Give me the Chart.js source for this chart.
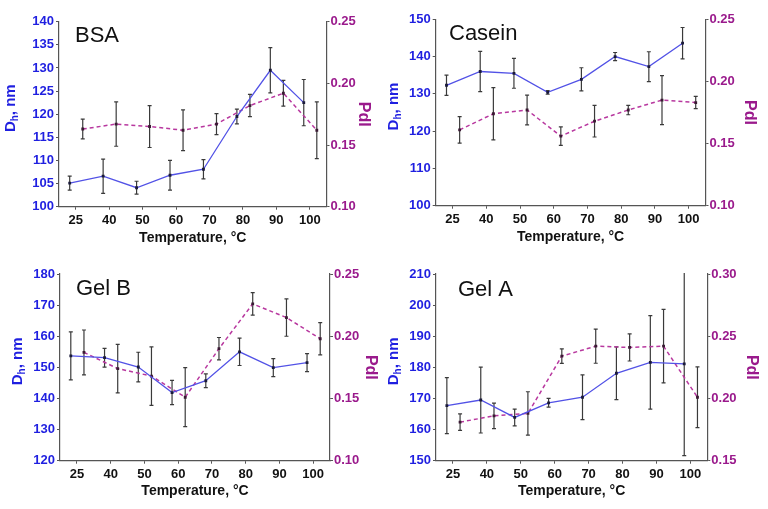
<!DOCTYPE html>
<html>
<head>
<meta charset="utf-8">
<script src="https://cdn.jsdelivr.net/npm/chart.js@4.4.1/dist/chart.umd.min.js"></script>
<style>
    body { margin: 0; background: #fff; }
    #page { position: relative; width: 768px; height: 509px; overflow: hidden; background: #fff; }
    #page canvas { position: absolute; }
</style>
</head>
<body>
<div id="page">
    <canvas id="bsaChart" width="384" height="250" style="left:0;top:0"></canvas>
    <canvas id="caseinChart" width="384" height="250" style="left:384px;top:0"></canvas>
    <canvas id="gelBChart" width="384" height="259" style="left:0;top:250px"></canvas>
    <canvas id="gelAChart" width="384" height="259" style="left:384px;top:250px"></canvas>
</div>
<script>
const tempLabels = ["25", "40", "50", "60", "70", "80", "90", "100"];

// BSA
const bsaSize = [105.1, 106.6, 104.1, 106.8, 108.1, 119.5, 129.5, 122.5];
const bsaSizeErr = [1.5, 3.7, 1.4, 3.2, 2.1, 1.6, 4.9, 5.0];
const bsaPdi = [0.163, 0.167, 0.165, 0.162, 0.167, 0.182, 0.192, 0.162];
const bsaPdiErr = [0.008, 0.018, 0.017, 0.0165, 0.0085, 0.009, 0.0105, 0.023];

// Casein
const caseinSize = [132.3, 136.0, 135.5, 130.4, 133.9, 140.0, 137.3, 143.6];
const caseinSizeErr = [2.7, 5.4, 4.0, 0.5, 3.1, 1.1, 4.0, 4.2];
const caseinPdi = [0.161, 0.174, 0.177, 0.156, 0.168, 0.177, 0.185, 0.183];
const caseinPdiErr = [0.0107, 0.021, 0.012, 0.0074, 0.0127, 0.0038, 0.0197, 0.0049];

// Gel B
const gelBSize = [153.7, 153.1, 150.1, 141.9, 145.7, 155.0, 149.9, 151.5];
const gelBSizeErr = [7.7, 3.0, 4.75, 3.9, 2.2, 4.4, 2.9, 2.9];
const gelBPdi = [0.187, 0.174, 0.168, 0.151, 0.19, 0.226, 0.215, 0.198];
const gelBPdiErr = [0.018, 0.0195, 0.0235, 0.0237, 0.009, 0.009, 0.015, 0.013];

// Gel A
const gelASize = [167.7, 169.5, 163.9, 168.6, 170.4, 178.1, 181.6, 181.1];
const gelASizeErr = [9.0, 10.6, 2.7, 1.4, 7.2, 8.5, 15.0, 29.5];
const gelAPdi = [0.181, 0.186, 0.188, 0.234, 0.242, 0.241, 0.242, 0.201];
const gelAPdiErr = [0.0067, 0.0103, 0.0174, 0.0058, 0.0137, 0.0109, 0.0295, 0.0244];

const FONT = "'Liberation Sans', Arial, sans-serif";
const SIZE_COLOR = "#1f1fe0";
const SIZE_LINE = "#5252e6";
const PDI_COLOR = "#9a1a8c";
const PDI_LINE = "#b8389f";
const AXIS_COLOR = "#555";
// small sideways shift of the two series inside each temperature slot
const SIZE_SHIFT = -0.18;
const PDI_SHIFT = 0.21;

const panels = [
    { id: "bsaChart", name: "BSA", size: bsaSize, sizeErr: bsaSizeErr, pdi: bsaPdi, pdiErr: bsaPdiErr,
      sizeMin: 100, sizeMax: 140, sizeStep: 5, pdiMin: 0.10, pdiMax: 0.25,
      w: 384, h: 250, left: 59, right: 326.5, top: 21.7, bottom: 206.7,
      nameX: 75, nameY: 42, yTitleX: 11, pdiTitleOff: 21, xTitleOff: 12.3 },
    { id: "caseinChart", name: "Casein", size: caseinSize, sizeErr: caseinSizeErr, pdi: caseinPdi, pdiErr: caseinPdiErr,
      sizeMin: 100, sizeMax: 150, sizeStep: 10, pdiMin: 0.10, pdiMax: 0.25,
      w: 384, h: 250, left: 51.7, right: 321.5, top: 19.3, bottom: 205.7,
      nameX: 65, nameY: 40, yTitleX: 10, pdiTitleOff: 19, xTitleOff: 12.7 },
    { id: "gelBChart", name: "Gel B", size: gelBSize, sizeErr: gelBSizeErr, pdi: gelBPdi, pdiErr: gelBPdiErr,
      sizeMin: 120, sizeMax: 180, sizeStep: 10, pdiMin: 0.10, pdiMax: 0.25,
      w: 384, h: 259, left: 60, right: 330, top: 24, bottom: 210.7,
      nameX: 76, nameY: 45, yTitleX: 18, pdiTitleOff: 14, xTitleOff: 18.3 },
    { id: "gelAChart", name: "Gel A", size: gelASize, sizeErr: gelASizeErr, pdi: gelAPdi, pdiErr: gelAPdiErr,
      sizeMin: 150, sizeMax: 210, sizeStep: 10, pdiMin: 0.15, pdiMax: 0.30,
      w: 384, h: 259, left: 52, right: 323.3, top: 24, bottom: 210.7,
      nameX: 74, nameY: 46, yTitleX: 10, pdiTitleOff: 17, xTitleOff: 18.3 },
];

const errorBars = {
    id: "errorBars",
    beforeDatasetsDraw(chart) {
        const { ctx, chartArea } = chart;
        ctx.save();
        ctx.beginPath();
        ctx.rect(chartArea.left, chartArea.top - 1, chartArea.right - chartArea.left, chartArea.bottom - chartArea.top + 2);
        ctx.clip();
        ctx.strokeStyle = "#3a3a3a";
        ctx.lineWidth = 1.2;
        chart.data.datasets.forEach((ds, di) => {
            const meta = chart.getDatasetMeta(di);
            const yScale = chart.scales[ds.yAxisID];
            meta.data.forEach((pt, i) => {
                const v = ds.data[i].y;
                const e = ds.errors[i];
                const yTop = yScale.getPixelForValue(v + e);
                const yBot = yScale.getPixelForValue(v - e);
                ctx.beginPath();
                ctx.moveTo(pt.x, yTop);
                ctx.lineTo(pt.x, yBot);
                ctx.moveTo(pt.x - 2, yTop);
                ctx.lineTo(pt.x + 2, yTop);
                ctx.moveTo(pt.x - 2, yBot);
                ctx.lineTo(pt.x + 2, yBot);
                ctx.stroke();
            });
        });
        ctx.restore();
    },
};

const panelDecor = {
    id: "panelDecor",
    afterDraw(chart, args, opts) {
        const { ctx, chartArea } = chart;
        ctx.save();
        ctx.fillStyle = "#111";
        ctx.font = "22px " + FONT;
        ctx.textBaseline = "alphabetic";
        ctx.textAlign = "left";
        ctx.fillText(opts.name, opts.nameX, opts.nameY);

        // left axis title, D with subscript h
        const cy = (chartArea.top + chartArea.bottom) / 2 - 6;
        ctx.translate(opts.titleX, cy);
        ctx.rotate(-Math.PI / 2);
        ctx.fillStyle = SIZE_COLOR;
        ctx.textBaseline = "middle";
        const big = "bold 15px " + FONT;
        const small = "bold 10px " + FONT;
        ctx.font = big;
        const wD = ctx.measureText("D").width;
        const wR = ctx.measureText(", nm").width;
        ctx.font = small;
        const wH = ctx.measureText("h").width;
        let x = -(wD + wH + wR) / 2;
        ctx.font = big;
        ctx.fillText("D", x, 0);
        x += wD;
        ctx.font = small;
        ctx.fillText("h", x, 4);
        x += wH;
        ctx.font = big;
        ctx.fillText(", nm", x, 0);
        ctx.restore();
    },
};

function makeChart(p) {
    new Chart(document.getElementById(p.id), {
        type: "line",
        data: {
            datasets: [
                {
                    label: "Dh",
                    data: p.size.map((v, i) => ({ x: i + SIZE_SHIFT, y: v })),
                    errors: p.sizeErr,
                    yAxisID: "y",
                    borderColor: SIZE_LINE,
                    borderWidth: 1.3,
                    pointStyle: "rect",
                    pointRadius: 2,
                    pointBackgroundColor: "#1a1a3a",
                    pointBorderWidth: 0,
                    tension: 0,
                },
                {
                    label: "PdI",
                    data: p.pdi.map((v, i) => ({ x: i + PDI_SHIFT, y: v })),
                    errors: p.pdiErr,
                    yAxisID: "y1",
                    borderColor: PDI_LINE,
                    borderWidth: 1.5,
                    borderDash: [4, 3],
                    pointStyle: "rect",
                    pointRadius: 2,
                    pointBackgroundColor: "#3a1a33",
                    pointBorderWidth: 0,
                    tension: 0,
                },
            ],
        },
        options: {
            responsive: false,
            animation: false,
            layout: { padding: { top: p.top, left: 0, right: 0, bottom: 0 } },
            plugins: {
                legend: { display: false },
                tooltip: { enabled: false },
                panelDecor: { name: p.name, nameX: p.nameX, nameY: p.nameY, titleX: p.yTitleX },
            },
            scales: {
                x: {
                    type: "linear",
                    min: -0.5,
                    max: 7.5,
                    afterBuildTicks: (s) => { s.ticks = tempLabels.map((_, i) => ({ value: i })); },
                    afterFit: (s) => { s.height = p.h - p.bottom; },
                    ticks: {
                        autoSkip: false,
                        maxRotation: 0,
                        padding: 3,
                        color: "#111",
                        font: { family: FONT, size: 13, weight: "bold" },
                        callback: (v) => tempLabels[v],
                    },
                    grid: { drawOnChartArea: false, tickLength: 3, color: AXIS_COLOR },
                    border: { color: AXIS_COLOR, width: 1.2 },
                    title: {
                        display: true,
                        text: "Temperature, °C",
                        color: "#111",
                        font: { family: FONT, size: 14, weight: "bold", lineHeight: 1.2 },
                        padding: { top: 0, bottom: p.xTitleOff - 8.4 },
                    },
                },
                y: {
                    position: "left",
                    min: p.sizeMin,
                    max: p.sizeMax,
                    afterFit: (s) => { s.width = p.left; },
                    ticks: {
                        stepSize: p.sizeStep,
                        padding: 2,
                        color: SIZE_COLOR,
                        font: { family: FONT, size: 13, weight: "bold" },
                    },
                    grid: { drawOnChartArea: false, tickLength: 3, color: AXIS_COLOR },
                    border: { color: AXIS_COLOR, width: 1.2 },
                },
                y1: {
                    position: "right",
                    min: p.pdiMin,
                    max: p.pdiMax,
                    afterFit: (s) => { s.width = p.w - p.right; },
                    ticks: {
                        stepSize: 0.05,
                        padding: 1,
                        color: PDI_COLOR,
                        font: { family: FONT, size: 13, weight: "bold" },
                        callback: (v) => v.toFixed(2),
                    },
                    grid: { drawOnChartArea: false, tickLength: 3, color: AXIS_COLOR },
                    border: { color: AXIS_COLOR, width: 1.2 },
                    title: {
                        display: true,
                        text: "PdI",
                        color: PDI_COLOR,
                        font: { family: FONT, size: 16, weight: "bold", lineHeight: 1.2 },
                        padding: { top: p.pdiTitleOff - 9.6, bottom: 0 },
                    },
                },
            },
        },
        plugins: [errorBars, panelDecor],
    });
}

panels.forEach(makeChart);
</script>
</body>
</html>
